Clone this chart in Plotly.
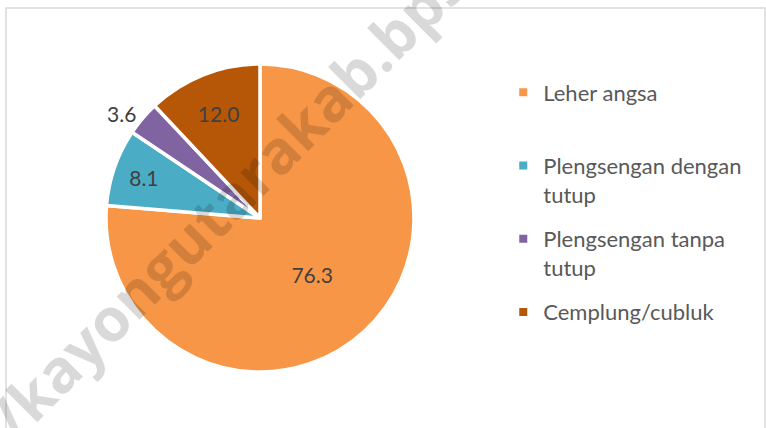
import plotly.graph_objects as go

# jenis tempat buang air besar (persen)
labels = ["Leher angsa", "Plengsengan dengan tutup", "Plengsengan tanpa tutup", "Cemplung/cubluk"]
legend_text = ["Leher angsa<br> ", "Plengsengan dengan<br>tutup", "Plengsengan tanpa<br>tutup", "Cemplung/cubluk<br> "]
values = [76.3, 8.1, 3.6, 12.0]
colors = ["#F79646", "#4BACC6", "#8064A2", "#B65708"]
text_pos = ["inside", "inside", "outside", "inside"]

watermark = "https://kayongutarakab.bps.go.id"

fig = go.Figure()

fig.add_trace(go.Pie(
    labels=labels, values=values, sort=False, direction="clockwise", rotation=0,
    marker=dict(colors=colors, line=dict(color="white", width=3.5)),
    texttemplate="%{value:.1f}", textposition=text_pos,
    insidetextorientation="horizontal",
    textfont=dict(family="Lato", size=21, color="#404040"),
    outsidetextfont=dict(family="Lato", size=21, color="#404040"),
    domain=dict(x=[106/766, 414/766], y=[56/428, 364/428]),
    showlegend=False, hoverinfo="label+value",
))

# legend entries (Excel spaces the items evenly)
for name, txt, c in zip(labels, legend_text, colors):
    fig.add_trace(go.Scatter(
        x=[None], y=[None], mode="markers", name=txt, legendgroup=name,
        marker=dict(symbol="square", size=8, color=c),
    ))

fig.update_layout(
    width=766, height=428,
    margin=dict(l=0, r=0, t=0, b=0),
    paper_bgcolor="white", plot_bgcolor="white",
    xaxis=dict(visible=False), yaxis=dict(visible=False),
    showlegend=True,
    legend=dict(
        x=0.657, y=0.833, xanchor="left", yanchor="top",
        font=dict(family="Lato", size=22, color="#595959"),
        valign="top", itemwidth=30, tracegroupgap=13,
    ),
    shapes=[dict(type="rect", xref="paper", yref="paper",
                 x0=6/766, x1=765/766, y0=-0.05, y1=1-8/428,
                 line=dict(color="#D9D9D9", width=1.5))],
    annotations=[dict(
        text="<b>" + watermark + "</b>", x=213/766, y=1-214/428,
        xref="paper", yref="paper", showarrow=False, textangle=-45,
        xanchor="center", yanchor="middle",
        font=dict(family="Open Sans", size=60, color="rgba(0,0,0,0.15)"),
    )],
)

fig.write_html("out.html", config={"displayModeBar": False},
               post_script="document.body.style.margin='0px';")
